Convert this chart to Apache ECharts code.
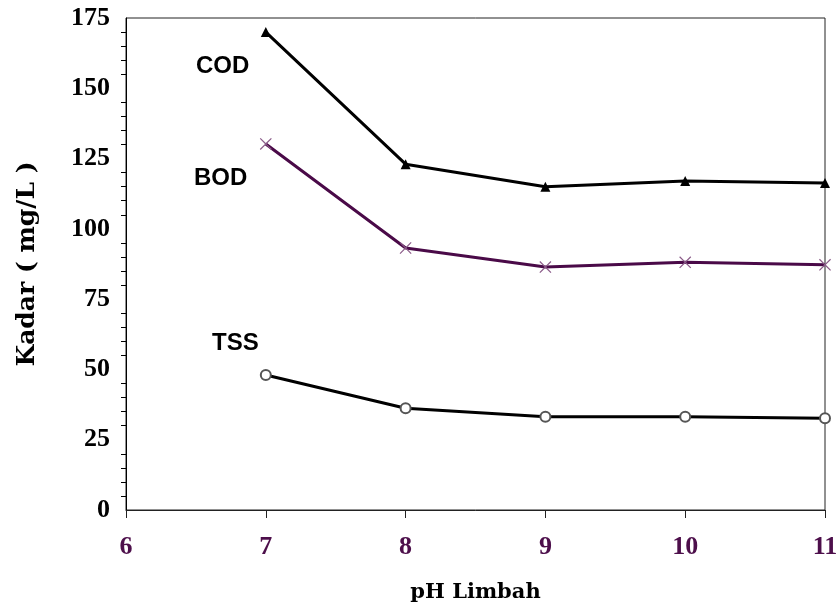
<!DOCTYPE html>
<html>
<head>
<meta charset="utf-8">
<script src="https://cdn.jsdelivr.net/npm/echarts@6/dist/echarts.min.js"></script>
<style>html,body{margin:0;padding:0;background:#fff}#c{width:839px;height:602px}</style>
</head>
<body>
<div id="c"></div>
<script>
const phValues = [7, 8, 9, 10, 11];
const codValues = [170, 123, 115, 117, 116.3];
const bodValues = [130.2, 93.2, 86.4, 88.1, 87.2];
const tssValues = [48, 36.2, 33.2, 33.2, 32.6];
const seriesNames = ['COD', 'BOD', 'TSS'];
const xTickLabels = [6, 7, 8, 9, 10, 11];
const yTickLabels = [0, 25, 50, 75, 100, 125, 150, 175];

const pairs = vals => phValues.map((x, i) => [x, vals[i]]);
// minor ticks every 5, skipping the labelled multiples of 25
const yMinorTicks = [];
for (let v = 5; v < 175; v += 5) { if (v % 25 !== 0) yMinorTicks.push(v); }
const xShape = 'path://M0,0.7 L0.7,0 L5,4.3 L9.3,0 L10,0.7 L5.7,5 L10,9.3 L9.3,10 L5,5.7 L0.7,10 L0,9.3 L4.3,5 Z';

const chart = echarts.init(document.getElementById('c'), null, {renderer: 'canvas'});
chart.setOption({
  animation: false,
  backgroundColor: '#fff',
  grid: {left: 126, right: 14, top: 18, bottom: 92, containLabel: false, outerBoundsMode: 'none',
    show: true, borderColor: '#222', borderWidth: 1, backgroundColor: 'transparent'},
  xAxis: {
    type: 'value', min: 6, max: 11, interval: 1,
    name: 'pH Limbah', nameLocation: 'middle', nameGap: 72,
    nameTextStyle: {fontFamily: 'DejaVu Serif', fontWeight: 'bold', fontSize: 21, color: '#000'},
    axisLine: {show: true, onZero: false, lineStyle: {color: '#222', width: 1}},
    axisTick: {show: true, inside: false, length: 8, lineStyle: {color: '#222'}, customValues: xTickLabels},
    axisLabel: {margin: 24, fontFamily: 'Liberation Serif', fontWeight: 'bold', fontSize: 26, color: '#4d0f4b', customValues: xTickLabels},
    splitLine: {show: false}
  },
  yAxis: {
    type: 'value', min: 0, max: 175, interval: 25,
    name: 'Kadar ( mg/L )', nameLocation: 'middle', nameGap: 86, nameRotate: 90,
    nameTextStyle: {fontFamily: 'DejaVu Serif', fontWeight: 'bold', fontSize: 25, color: '#000'},
    axisLine: {show: true, lineStyle: {color: '#000', width: 1}},
    axisTick: {show: true, inside: false, length: 5, lineStyle: {color: '#000'}, customValues: yMinorTicks},
    axisLabel: {margin: 16, fontFamily: 'Liberation Serif', fontWeight: 'bold', fontSize: 26, color: '#000', customValues: yTickLabels},
    splitLine: {show: false}
  },
  graphic: [
    {type: 'text', left: 196, top: 54, style: {text: seriesNames[0], font: 'bold 24px "Liberation Sans"', fill: '#000'}},
    {type: 'text', left: 194, top: 166, style: {text: seriesNames[1], font: 'bold 24px "Liberation Sans"', fill: '#000'}},
    {type: 'text', left: 212, top: 331, style: {text: seriesNames[2], font: 'bold 24px "Liberation Sans"', fill: '#000'}}
  ],
  series: [
    {name: seriesNames[0], type: 'line', data: pairs(codValues), symbol: 'triangle', symbolSize: 10,
      lineStyle: {color: '#000', width: 3}, itemStyle: {color: '#000'}, z: 3},
    {name: seriesNames[1], type: 'line', data: pairs(bodValues), symbol: xShape, symbolSize: 12,
      lineStyle: {color: '#4a0a48', width: 3}, itemStyle: {color: '#8a5a88'}, z: 3},
    {name: seriesNames[2], type: 'line', data: pairs(tssValues), symbol: 'emptyCircle', symbolSize: 10,
      lineStyle: {color: '#000', width: 3}, itemStyle: {color: '#555', borderColor: '#555', borderWidth: 1}, z: 3}
  ]
});
</script>
</body>
</html>
